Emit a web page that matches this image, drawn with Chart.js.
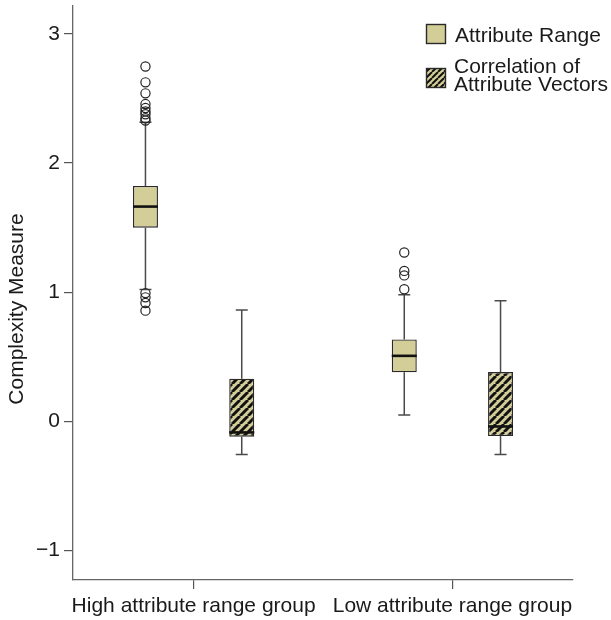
<!DOCTYPE html>
<html>
<head>
<meta charset="utf-8">
<script src="https://cdn.jsdelivr.net/npm/chart.js@4.4.1/dist/chart.umd.min.js"></script>
<style>
  html, body { margin: 0; padding: 0; background: #fff; }
  #wrap { width: 611px; height: 620px; position: relative; }
</style>
</head>
<body>
<div id="wrap"><canvas id="c" width="611" height="620"></canvas></div>
<script>
// Groups on the x axis and where they sit on the linear x scale
const groups = ['High attribute range group', 'Low attribute range group'];
const groupPos = [1, 2];

// Series and their offset from the group centre
const seriesNames = ['Attribute Range', 'Correlation of Attribute Vectors'];
const seriesOffset = [-0.186, 0.186];

// Five-number summaries per group: [lower whisker, Q1, median, Q3, upper whisker]
const rangeStats = [
  [1.021, 1.499, 1.663, 1.823, 2.316],
  [0.048, 0.379, 0.507, 0.634, 0.980]
];
const corrStats = [
  [-0.258, -0.119, -0.086, 0.330, 0.862],
  [-0.258, -0.114, -0.040, 0.381, 0.934]
];

// Outlying observations per group
const rangeOutliers = [
  [2.748, 2.625, 2.540, 2.457, 2.426, 2.400, 2.378, 2.347, 2.330, 0.993, 0.960, 0.916, 0.857],
  [1.307, 1.165, 1.130, 1.023]
];
const corrOutliers = [[], []];

// Axis ticks and limits
const yTicks = [-1, 0, 1, 2, 3];
const yMin = -1.229, yMax = 3.218;
const xMin = 0.534, xMax = 2.466;

const FONT = 'Liberation Sans, Arial, Helvetica, sans-serif';
const TEXT = '#1a1a1a';
const KHAKI = '#d3cd97';
const EDGE = '#2a2a2a';

const canvas = document.getElementById('c');
const ctx = canvas.getContext('2d');

function hatchPattern(size, lw) {
  const t = document.createElement('canvas');
  t.width = t.height = size;
  const g = t.getContext('2d');
  g.fillStyle = KHAKI;
  g.fillRect(0, 0, size, size);
  g.strokeStyle = '#111';
  g.lineWidth = lw;
  g.beginPath();
  for (const o of [-size, 0, size]) {
    g.moveTo(o, size);
    g.lineTo(o + size, 0);
  }
  g.stroke();
  return ctx.createPattern(t, 'repeat');
}
const hatch = hatchPattern(8, 2.9);
const hatchSmall = hatchPattern(6, 2.0);

const boxData = (stats, k) => groupPos.map((p, i) => ({ x: p + seriesOffset[k], y: [stats[i][1], stats[i][3]] }));
const outlierData = (out, k) => {
  const pts = [];
  groupPos.forEach((p, i) => out[i].forEach(v => pts.push({ x: p + seriesOffset[k], y: v })));
  return pts;
};

const allStats = [rangeStats, corrStats];

// Whiskers, caps and medians drawn through the chart's scales
const boxPlotPlugin = {
  id: 'boxPlotParts',
  beforeDatasetsDraw(chart) {
    const { x, y } = chart.scales;
    const c = chart.ctx;
    c.save();
    c.strokeStyle = '#4a4a4a';
    c.lineWidth = 1.5;
    allStats.forEach((stats, k) => {
      stats.forEach((s, i) => {
        const px = x.getPixelForValue(groupPos[i] + seriesOffset[k]);
        const lo = y.getPixelForValue(s[0]), q1 = y.getPixelForValue(s[1]);
        const q3 = y.getPixelForValue(s[3]), hi = y.getPixelForValue(s[4]);
        c.beginPath();
        c.moveTo(px, q3); c.lineTo(px, hi);
        c.moveTo(px, q1); c.lineTo(px, lo);
        c.moveTo(px - 6, hi); c.lineTo(px + 6, hi);
        c.moveTo(px - 6, lo); c.lineTo(px + 6, lo);
        c.stroke();
      });
    });
    c.restore();
  },
  afterDatasetsDraw(chart) {
    const { y } = chart.scales;
    const c = chart.ctx;
    c.save();
    c.strokeStyle = '#111';
    c.lineWidth = 2.6;
    allStats.forEach((stats, k) => {
      const meta = chart.getDatasetMeta(k);
      stats.forEach((s, i) => {
        const bar = meta.data[i];
        const py = y.getPixelForValue(s[2]);
        c.beginPath();
        c.moveTo(bar.x - bar.width / 2, py);
        c.lineTo(bar.x + bar.width / 2, py);
        c.stroke();
      });
    });
    c.restore();
  },
  afterDraw(chart) {
    const c = chart.ctx;
    c.save();
    // y axis title, centred on the figure height
    c.font = '21px ' + FONT;
    c.fillStyle = TEXT;
    c.translate(17, 309);
    c.rotate(-Math.PI / 2);
    c.textAlign = 'center';
    c.textBaseline = 'middle';
    c.fillText('Complexity Measure', 0, 0);
    c.restore();

    // legend
    c.save();
    c.lineWidth = 1.4;
    c.strokeStyle = EDGE;
    c.fillStyle = KHAKI;
    c.fillRect(426, 24, 20, 20);
    c.strokeRect(426.5, 24.5, 19, 19);
    c.fillStyle = hatchSmall;
    c.fillRect(426, 68, 20, 20);
    c.strokeRect(426.5, 68.5, 19, 19);
    c.font = '21px ' + FONT;
    c.fillStyle = TEXT;
    c.textAlign = 'left';
    c.textBaseline = 'alphabetic';
    c.fillText(seriesNames[0], 455, 42.3);
    c.fillText('Correlation of', 454, 73.3);
    c.fillText('Attribute Vectors', 454, 91);
    c.restore();
  }
};

new Chart(ctx, {
  data: {
    datasets: [
      {
        type: 'bar', label: seriesNames[0], data: boxData(rangeStats, 0),
        backgroundColor: KHAKI, borderColor: EDGE, borderWidth: 1.4, borderSkipped: false,
        grouped: false, maxBarThickness: 25, order: 2
      },
      {
        type: 'bar', label: seriesNames[1], data: boxData(corrStats, 1),
        backgroundColor: hatch, borderColor: EDGE, borderWidth: 1.4, borderSkipped: false,
        grouped: false, maxBarThickness: 25, order: 2
      },
      {
        type: 'scatter', label: seriesNames[0] + ' outliers', data: outlierData(rangeOutliers, 0),
        pointRadius: 4.6, pointBorderWidth: 1.2, pointBorderColor: '#222',
        pointBackgroundColor: 'rgba(0,0,0,0)', order: 1
      },
      {
        type: 'scatter', label: seriesNames[1] + ' outliers', data: outlierData(corrOutliers, 1),
        pointRadius: 4.6, pointBorderWidth: 1.2, pointBorderColor: '#222',
        pointBackgroundColor: 'rgba(0,0,0,0)', order: 1
      }
    ]
  },
  options: {
    responsive: false,
    animation: false,
    devicePixelRatio: 1,
    layout: { padding: { top: 2, right: 38, left: 0, bottom: 0 } },
    plugins: { legend: { display: false }, tooltip: { enabled: false } },
    scales: {
      x: {
        type: 'linear', position: 'bottom', min: xMin, max: xMax, offset: false,
        afterBuildTicks: s => { s.ticks = groupPos.map(v => ({ value: v })); },
        afterFit: s => { s.height = 40; s.paddingLeft = 0; s.paddingRight = 0; },
        ticks: {
          callback: v => groups[groupPos.indexOf(v)],
          autoSkip: false, maxRotation: 0, minRotation: 0, padding: 5,
          color: TEXT, font: { family: FONT, size: 21 }
        },
        grid: { offset: false, drawOnChartArea: false, drawTicks: true, tickLength: 9, color: '#555', lineWidth: 1.2 },
        border: { color: '#666', width: 1.3 }
      },
      y: {
        type: 'linear', min: yMin, max: yMax,
        afterBuildTicks: s => { s.ticks = yTicks.map(v => ({ value: v })); },
        afterFit: s => { s.width = 73; s.paddingTop = 0; s.paddingBottom = 0; },
        ticks: {
          callback: v => (v < 0 ? '\u2212' + Math.abs(v) : String(v)),
          padding: 4, color: TEXT, font: { family: FONT, size: 21 }
        },
        grid: { drawOnChartArea: false, drawTicks: true, tickLength: 9, color: '#555', lineWidth: 1.2 },
        border: { color: '#666', width: 1.3 }
      }
    }
  },
  plugins: [boxPlotPlugin]
});
</script>
</body>
</html>
